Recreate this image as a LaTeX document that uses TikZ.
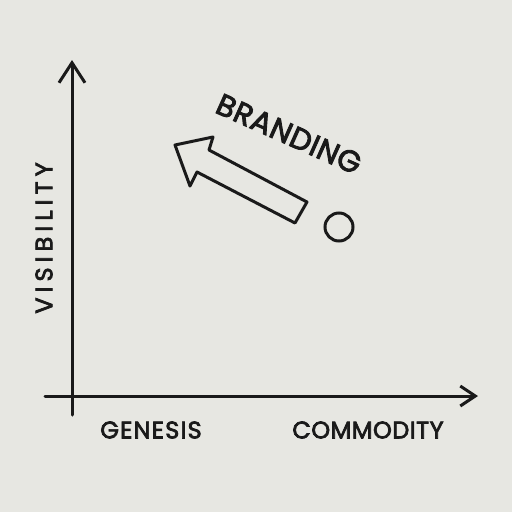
\documentclass[tikz,border=0pt]{standalone}
\usepackage{fontspec}
\setmainfont{Poppins}
\newfontfamily\lblf{Poppins}[FakeBold=3]
\usetikzlibrary{arrows.meta}
\definecolor{bg}{HTML}{E7E7E2}
\definecolor{ink}{HTML}{1A1A1A}
\begin{document}
\begin{tikzpicture}[x=1pt,y=-1pt,
  axisline/.style={draw=ink,line width=3pt,line cap=round},
  lbl/.style={text=ink,inner sep=0pt},
  shapeline/.style={draw=ink,line width=3pt,line join=round}]
\fill[bg] (0,0) rectangle (512,512);
\useasboundingbox (0,0) rectangle (512,512);
\coordinate (ytop) at (72,60);
\coordinate (ybot) at (72,415);
\coordinate (xl) at (45,396);
\coordinate (xr) at (478,396);
\draw[axisline,-{Straight Barb[length=20pt,width=26pt,line width=3pt]}] (ybot) -- (ytop);
\draw[axisline,-{Straight Barb[length=15pt,width=20pt,line width=3pt]}] (xl) -- (xr);
\node[lbl,font=\lblf\fontsize{24}{24}\selectfont\addfontfeatures{LetterSpace=5}] (genesis) at (151,430) {GENESIS};
\node[lbl,font=\lblf\fontsize{24}{24}\selectfont\addfontfeatures{LetterSpace=2}] (commodity) at (368,430) {COMMODITY};
\node[lbl,rotate=90,font=\lblf\fontsize{24}{24}\selectfont\addfontfeatures{LetterSpace=21}] (visibility) at (44,238) {VISIBILITY};
\node[lbl,rotate=-24,font=\lblf\fontsize{30}{30}\selectfont\addfontfeatures{LetterSpace=2}] (branding) at (289,134) {BRANDING};
\draw[shapeline] (175,145) -- (213,137) -- (209,150) -- (307,202) -- (295,223) -- (197,172) -- (190,186) -- cycle;
\node[draw=ink,line width=3pt,circle,minimum size=28pt,inner sep=0pt] (dot) at (339,227) {};
\end{tikzpicture}
\end{document}
